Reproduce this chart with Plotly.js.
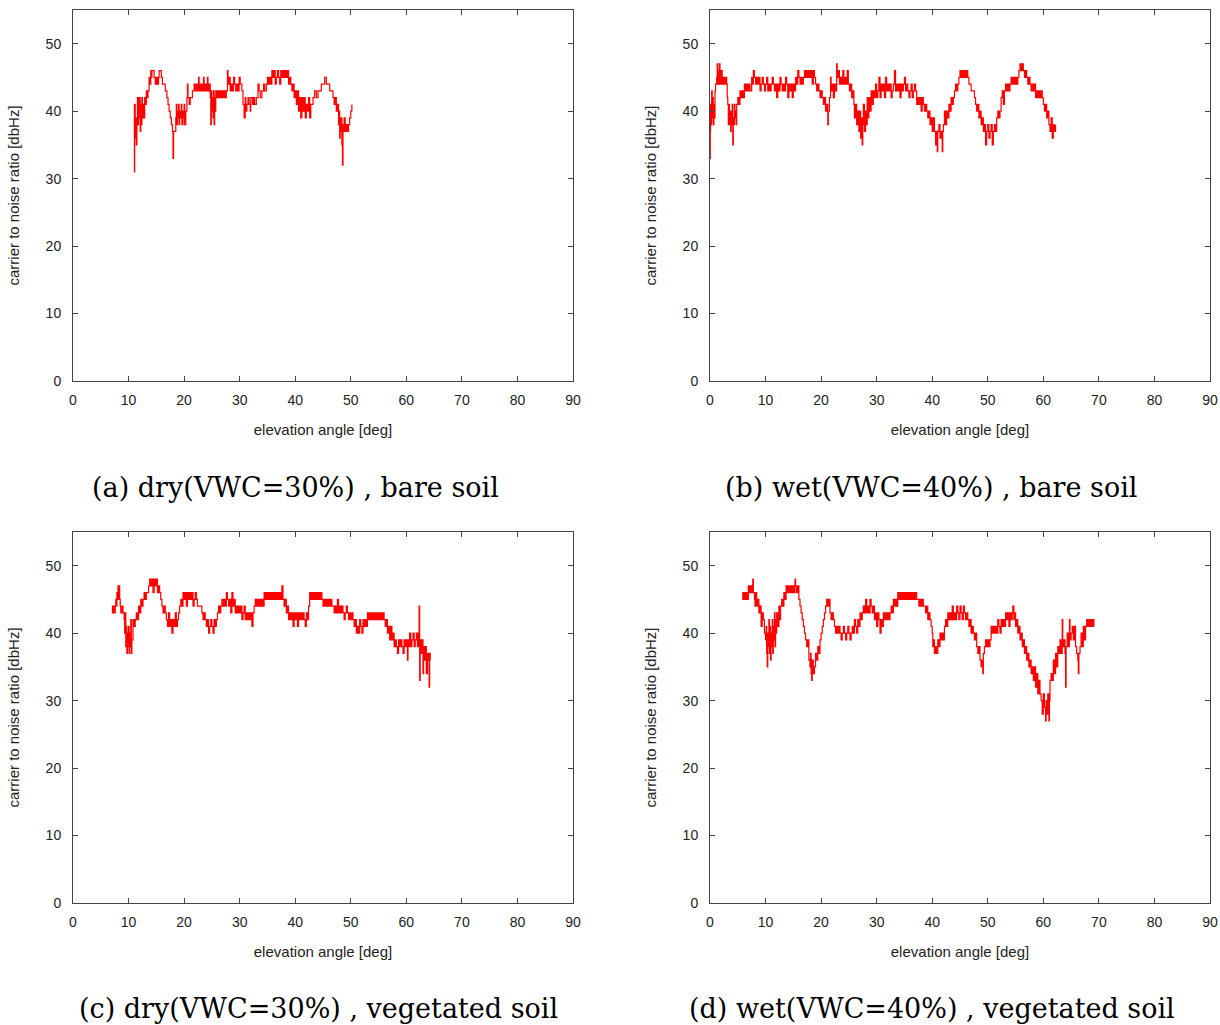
<!DOCTYPE html>
<html>
<head>
<meta charset="utf-8">
<script src="https://cdn.plot.ly/plotly-3.0.1.min.js"></script>
<style>html,body{margin:0;padding:0;background:#fff;}#chart{width:1220px;height:1025px;}</style>
</head>
<body>
<div id="chart"></div>
<script>
// [elevation angle (deg), carrier to noise ratio (dBHz)]
const panelA = [[11.0,41],[11.05,31],[11.1,41],[11.2,36],[11.3,39],[11.4,35],[11.5,39],[11.6,42],[11.7,38],[11.8,42],[11.9,39],[12.0,42],[12.1,37],[12.2,41],[12.3,38],[12.4,42],[12.5,39],[12.6,40],[12.7,41],[12.8,39],[12.9,42],[13.0,41],[13.2,43],[13.4,42],[13.5,43],[13.7,45],[13.8,44],[14.0,46],[14.1,45],[14.2,46],[14.4,46],[14.6,45],[14.8,44],[15.0,45],[15.2,44],[15.4,45],[15.5,46],[15.7,46],[15.9,45],[16.1,44],[16.4,44],[16.6,43],[16.9,42],[17.1,41],[17.3,40],[17.5,39],[17.7,38],[17.9,37],[18.0,33],[18.1,37],[18.3,37],[18.5,39],[18.6,41],[18.7,38],[18.8,40],[18.9,39],[19.0,41],[19.1,38],[19.2,40],[19.4,39],[19.5,41],[19.6,38],[19.8,40],[19.9,39],[20.0,41],[20.1,38],[20.3,40],[20.5,42],[20.6,44],[20.7,42],[20.9,41],[21.1,42],[21.3,42],[21.5,43],[21.8,44],[22.0,43],[22.2,44],[22.4,43],[22.6,45],[22.7,43],[22.9,44],[23.0,43],[23.2,44],[23.3,43],[23.5,45],[23.6,43],[23.8,44],[24.0,43],[24.2,45],[24.3,43],[24.5,44],[24.7,42],[24.8,38],[24.9,43],[25.0,40],[25.1,42],[25.2,39],[25.3,43],[25.4,38],[25.5,42],[25.6,40],[25.7,43],[25.9,42],[26.0,43],[26.2,42],[26.4,43],[26.6,42],[26.8,43],[27.0,42],[27.2,43],[27.4,42],[27.6,43],[27.8,46],[27.9,44],[28.1,45],[28.3,43],[28.5,44],[28.7,43],[28.9,45],[29.1,44],[29.3,43],[29.5,44],[29.7,43],[29.9,45],[30.1,44],[30.4,43],[30.6,41],[30.8,39],[31.0,42],[31.1,40],[31.3,41],[31.5,42],[31.7,41],[31.9,40],[32.0,42],[32.3,41],[32.5,42],[32.7,41],[33.0,42],[33.3,44],[33.5,43],[33.7,42],[34.0,43],[34.3,44],[34.5,43],[34.8,44],[35.0,45],[35.2,44],[35.4,45],[35.6,44],[35.8,46],[36.0,45],[36.2,46],[36.4,44],[36.6,45],[36.8,46],[37.0,45],[37.2,44],[37.4,46],[37.6,45],[37.8,46],[38.0,45],[38.2,46],[38.4,45],[38.6,46],[38.8,44],[39.0,45],[39.2,44],[39.4,43],[39.6,44],[39.8,42],[40.0,43],[40.2,41],[40.4,43],[40.6,40],[40.8,42],[41.0,39],[41.2,42],[41.4,40],[41.6,42],[41.8,39],[42.0,41],[42.2,40],[42.4,42],[42.6,39],[42.8,41],[43.0,41],[43.2,42],[43.5,43],[43.8,42],[44.1,43],[44.4,43],[44.7,44],[45.0,44],[45.3,45],[45.6,44],[45.9,44],[46.2,43],[46.5,43],[46.8,42],[47.0,41],[47.2,42],[47.4,40],[47.6,41],[47.8,38],[47.9,40],[48.0,36],[48.1,39],[48.2,37],[48.3,39],[48.4,35],[48.5,32],[48.6,38],[48.7,37],[48.8,39],[49.0,37],[49.2,38],[49.4,37],[49.6,38],[49.8,39],[50.0,40],[50.2,41]];

const panelB = [[0.0,33],[0.05,37],[0.1,41],[0.2,38],[0.3,43],[0.4,39],[0.5,42],[0.6,38],[0.7,41],[0.8,39],[0.9,43],[1.0,44],[1.2,45],[1.3,47],[1.4,44],[1.5,46],[1.6,44],[1.7,47],[1.8,45],[1.9,44],[2.0,46],[2.2,44],[2.4,45],[2.6,44],[2.8,45],[3.0,44],[3.1,42],[3.2,41],[3.3,38],[3.4,41],[3.5,38],[3.6,40],[3.7,37],[3.8,40],[3.9,38],[4.0,41],[4.1,35],[4.2,39],[4.3,38],[4.4,41],[4.5,39],[4.6,40],[4.7,38],[4.8,41],[5.0,42],[5.2,41],[5.4,43],[5.6,42],[5.8,43],[6.0,42],[6.2,44],[6.4,43],[6.6,44],[6.8,43],[7.0,44],[7.2,43],[7.5,45],[7.7,44],[7.8,46],[8.0,45],[8.2,44],[8.4,45],[8.6,44],[8.8,45],[9.0,43],[9.2,44],[9.4,45],[9.6,44],[9.8,43],[10.0,44],[10.2,45],[10.4,43],[10.6,44],[10.8,43],[11.0,44],[11.2,45],[11.4,44],[11.6,43],[11.8,44],[12.0,42],[12.2,44],[12.4,43],[12.6,45],[12.8,44],[13.0,43],[13.2,44],[13.4,43],[13.6,45],[13.8,44],[14.0,42],[14.2,44],[14.4,43],[14.6,44],[14.8,42],[15.0,44],[15.2,43],[15.4,45],[15.6,44],[15.8,46],[16.0,45],[16.2,44],[16.4,45],[16.6,44],[16.8,45],[17.0,46],[17.2,45],[17.4,46],[17.6,45],[17.8,46],[18.0,45],[18.2,46],[18.4,44],[18.6,46],[18.8,45],[19.0,44],[19.2,43],[19.4,44],[19.6,43],[19.8,42],[20.0,43],[20.2,42],[20.4,41],[20.6,42],[20.8,40],[21.0,41],[21.2,38],[21.3,40],[21.5,42],[21.7,45],[21.8,43],[22.0,44],[22.2,42],[22.4,44],[22.6,43],[22.8,47],[22.9,45],[23.1,46],[23.3,44],[23.5,45],[23.7,44],[23.9,46],[24.1,44],[24.3,45],[24.5,44],[24.7,46],[24.9,44],[25.1,43],[25.3,44],[25.5,42],[25.7,43],[25.9,41],[26.0,39],[26.2,41],[26.4,38],[26.6,40],[26.8,37],[27.0,40],[27.1,36],[27.2,39],[27.4,35],[27.5,38],[27.6,41],[27.8,37],[28.0,40],[28.1,38],[28.3,42],[28.4,39],[28.6,42],[28.8,40],[29.0,43],[29.2,41],[29.4,43],[29.6,42],[29.8,44],[30.0,42],[30.2,43],[30.4,45],[30.6,42],[30.8,44],[31.0,43],[31.2,44],[31.4,42],[31.6,45],[31.8,43],[32.0,44],[32.2,43],[32.4,44],[32.6,42],[32.8,43],[33.0,44],[33.2,46],[33.4,43],[33.6,44],[33.8,43],[34.0,44],[34.2,42],[34.4,44],[34.6,43],[34.8,44],[35.0,45],[35.2,43],[35.4,44],[35.6,43],[35.8,42],[36.0,43],[36.2,44],[36.4,42],[36.6,43],[36.8,44],[37.0,43],[37.2,41],[37.4,42],[37.6,41],[37.8,42],[38.0,40],[38.2,42],[38.4,41],[38.6,40],[38.8,41],[39.0,40],[39.2,39],[39.4,40],[39.6,38],[39.8,39],[40.0,37],[40.2,39],[40.4,37],[40.6,35],[40.8,37],[40.9,34],[41.0,37],[41.2,38],[41.4,36],[41.6,37],[41.8,34],[41.9,37],[42.0,38],[42.2,40],[42.4,38],[42.6,40],[42.8,39],[43.0,41],[43.2,40],[43.4,42],[43.6,41],[43.8,42],[44.0,43],[44.2,44],[44.4,43],[44.6,44],[44.8,45],[45.0,46],[45.2,45],[45.4,46],[45.6,45],[45.8,46],[46.0,45],[46.2,46],[46.4,45],[46.6,44],[46.8,44],[47.0,43],[47.4,43],[47.6,42],[47.8,41],[48.0,40],[48.2,41],[48.4,39],[48.6,40],[48.8,38],[49.0,39],[49.2,37],[49.4,38],[49.6,35],[49.8,37],[50.0,38],[50.2,36],[50.4,37],[50.6,38],[50.8,35],[51.0,37],[51.2,38],[51.4,37],[51.6,39],[51.8,40],[52.0,39],[52.2,40],[52.4,42],[52.6,43],[52.8,41],[53.0,43],[53.2,44],[53.4,43],[53.6,44],[53.8,43],[54.0,44],[54.2,45],[54.4,44],[54.6,45],[54.8,44],[55.0,45],[55.2,44],[55.4,45],[55.6,46],[55.8,47],[56.0,46],[56.2,47],[56.4,46],[56.6,45],[56.8,46],[57.0,45],[57.2,44],[57.4,45],[57.6,44],[57.8,43],[58.0,44],[58.2,43],[58.4,44],[58.6,42],[58.8,43],[59.0,42],[59.2,43],[59.4,42],[59.6,43],[59.8,42],[60.0,41],[60.2,40],[60.4,41],[60.6,39],[60.8,40],[61.0,38],[61.2,37],[61.4,39],[61.6,36],[61.8,38],[62.0,37],[62.2,38]];

const panelC = [[7.0,43],[7.1,44],[7.2,43],[7.4,44],[7.5,43],[7.6,44],[7.7,45],[7.8,44],[7.9,46],[8.0,45],[8.1,47],[8.2,45],[8.3,47],[8.4,45],[8.5,44],[8.6,43],[8.8,44],[9.0,43],[9.2,42],[9.3,40],[9.4,43],[9.5,38],[9.6,41],[9.7,37],[9.8,40],[9.9,38],[10.0,41],[10.1,37],[10.2,40],[10.3,38],[10.4,42],[10.5,37],[10.6,39],[10.8,42],[11.0,41],[11.2,42],[11.4,43],[11.6,42],[11.8,44],[12.0,43],[12.2,45],[12.4,44],[12.6,45],[12.8,46],[13.0,45],[13.2,46],[13.4,46],[13.6,47],[13.8,48],[14.0,47],[14.2,48],[14.4,46],[14.6,48],[14.8,47],[15.0,48],[15.2,46],[15.4,47],[15.6,46],[15.8,45],[16.0,44],[16.2,43],[16.4,44],[16.6,43],[16.8,42],[17.0,41],[17.2,43],[17.4,41],[17.6,42],[17.8,40],[18.0,42],[18.2,41],[18.4,43],[18.6,41],[18.8,42],[19.0,43],[19.2,44],[19.4,45],[19.6,44],[19.8,46],[20.0,45],[20.2,46],[20.4,44],[20.6,46],[20.8,45],[21.0,46],[21.2,45],[21.4,46],[21.6,44],[21.8,45],[22.0,46],[22.2,45],[22.4,44],[22.6,44],[23.0,44],[23.2,43],[23.4,42],[23.6,43],[23.8,42],[24.0,41],[24.2,42],[24.4,40],[24.6,41],[24.8,42],[25.0,41],[25.2,40],[25.4,42],[25.6,41],[25.8,42],[26.0,43],[26.2,44],[26.4,43],[26.6,44],[26.8,45],[27.0,44],[27.2,45],[27.4,44],[27.6,46],[27.8,45],[28.0,44],[28.2,45],[28.4,43],[28.6,46],[28.8,44],[29.0,45],[29.2,43],[29.4,44],[29.6,43],[29.8,44],[30.0,43],[30.2,44],[30.4,42],[30.6,43],[30.8,44],[31.0,42],[31.2,43],[31.4,42],[31.6,43],[31.8,42],[32.0,43],[32.2,41],[32.4,43],[32.6,44],[32.8,45],[33.0,44],[33.2,45],[33.4,44],[33.6,45],[33.8,44],[34.0,45],[34.2,44],[34.4,46],[34.6,45],[34.8,46],[35.0,45],[35.2,46],[35.4,45],[35.6,46],[35.8,45],[36.0,46],[36.2,45],[36.4,46],[36.6,45],[36.8,46],[37.0,45],[37.2,46],[37.4,45],[37.6,47],[37.8,45],[38.0,44],[38.2,45],[38.4,43],[38.6,44],[38.8,42],[39.0,43],[39.2,42],[39.4,43],[39.6,41],[39.8,43],[40.0,42],[40.2,43],[40.4,41],[40.6,43],[40.8,42],[41.0,43],[41.2,42],[41.4,43],[41.6,42],[41.8,41],[42.0,43],[42.2,42],[42.4,44],[42.6,46],[42.8,45],[43.0,46],[43.2,45],[43.4,46],[43.6,45],[43.8,46],[44.0,45],[44.2,46],[44.4,45],[44.6,46],[44.8,45],[45.0,44],[45.2,45],[45.4,44],[45.6,45],[45.8,44],[46.0,45],[46.2,44],[46.4,45],[46.6,44],[46.8,44],[47.0,43],[47.2,44],[47.4,43],[47.6,45],[47.8,43],[48.0,44],[48.2,43],[48.4,44],[48.6,43],[48.8,42],[49.0,43],[49.2,44],[49.4,43],[49.6,42],[49.8,43],[50.0,42],[50.2,43],[50.4,42],[50.6,41],[50.8,42],[51.0,40],[51.2,41],[51.4,40],[51.6,42],[51.8,41],[52.0,40],[52.2,42],[52.4,41],[52.6,42],[52.8,41],[53.0,43],[53.2,42],[53.4,43],[53.6,42],[53.8,43],[54.0,42],[54.2,43],[54.4,42],[54.6,43],[54.8,42],[55.0,43],[55.2,42],[55.4,43],[55.6,42],[55.8,43],[56.0,42],[56.2,41],[56.4,42],[56.6,40],[56.8,41],[57.0,39],[57.2,41],[57.4,39],[57.6,40],[57.8,38],[58.0,39],[58.2,38],[58.4,37],[58.6,39],[58.8,38],[59.0,39],[59.2,38],[59.4,37],[59.6,39],[59.8,38],[60.0,39],[60.2,36],[60.3,39],[60.4,38],[60.6,40],[60.8,38],[61.0,39],[61.2,40],[61.4,38],[61.6,39],[61.8,40],[62.0,38],[62.2,40],[62.3,44],[62.4,33],[62.5,39],[62.7,37],[62.9,39],[63.0,34],[63.1,38],[63.3,36],[63.5,38],[63.6,34],[63.8,37],[64.0,36],[64.1,32],[64.2,37],[64.3,36]];

const panelD = [[5.8,45],[5.9,46],[6.0,45],[6.2,46],[6.4,45],[6.6,46],[6.8,45],[6.9,47],[7.0,46],[7.2,47],[7.4,46],[7.6,47],[7.7,48],[7.8,46],[8.0,45],[8.1,44],[8.2,46],[8.4,44],[8.6,45],[8.8,43],[9.0,44],[9.2,41],[9.4,43],[9.6,42],[9.8,40],[10.0,39],[10.1,41],[10.2,37],[10.3,35],[10.4,40],[10.5,38],[10.6,42],[10.7,37],[10.8,41],[10.9,36],[11.0,40],[11.1,38],[11.2,42],[11.3,37],[11.4,41],[11.5,39],[11.6,43],[11.7,38],[11.8,42],[11.9,40],[12.0,43],[12.2,41],[12.4,44],[12.5,42],[12.7,44],[12.9,45],[13.1,44],[13.3,46],[13.5,45],[13.7,47],[13.9,46],[14.1,47],[14.3,46],[14.5,47],[14.7,46],[14.9,47],[15.1,46],[15.3,48],[15.4,47],[15.6,46],[15.8,47],[16.0,45],[16.2,44],[16.4,43],[16.6,42],[16.8,41],[17.0,40],[17.2,39],[17.4,38],[17.6,39],[17.8,36],[18.0,35],[18.1,37],[18.2,34],[18.3,33],[18.4,36],[18.6,34],[18.8,35],[19.0,37],[19.2,36],[19.4,38],[19.6,37],[19.8,39],[20.0,40],[20.2,41],[20.4,42],[20.6,43],[20.8,44],[21.0,45],[21.2,44],[21.4,45],[21.6,43],[21.8,42],[22.0,43],[22.2,42],[22.4,41],[22.6,40],[22.8,41],[23.0,40],[23.2,41],[23.4,40],[23.6,39],[23.8,40],[24.0,41],[24.2,40],[24.4,39],[24.6,40],[24.8,41],[25.0,40],[25.2,39],[25.4,40],[25.6,41],[25.8,40],[26.0,42],[26.2,41],[26.4,40],[26.6,42],[26.8,41],[27.0,43],[27.2,42],[27.4,43],[27.6,44],[27.8,43],[28.0,45],[28.2,43],[28.4,44],[28.6,43],[28.8,45],[29.0,44],[29.2,43],[29.4,44],[29.6,42],[29.8,43],[30.0,41],[30.2,43],[30.4,42],[30.6,40],[30.8,42],[31.0,41],[31.2,43],[31.4,42],[31.6,43],[31.8,42],[32.0,43],[32.2,42],[32.4,43],[32.6,44],[32.8,43],[33.0,45],[33.2,44],[33.4,45],[33.6,44],[33.8,46],[34.0,45],[34.2,46],[34.4,45],[34.6,46],[34.8,45],[35.0,46],[35.2,45],[35.4,46],[35.6,45],[35.8,46],[36.0,45],[36.2,46],[36.4,45],[36.6,46],[36.8,45],[37.0,46],[37.2,45],[37.4,45],[37.6,44],[37.8,45],[38.0,44],[38.2,45],[38.4,44],[38.6,44],[38.8,43],[39.0,44],[39.2,42],[39.4,43],[39.6,42],[39.8,41],[40.0,40],[40.1,38],[40.2,39],[40.4,37],[40.6,38],[40.8,37],[41.0,39],[41.2,38],[41.4,40],[41.6,39],[41.8,40],[42.0,39],[42.2,41],[42.4,42],[42.6,41],[42.8,43],[43.0,42],[43.2,43],[43.4,42],[43.6,44],[43.8,42],[44.0,43],[44.2,42],[44.4,44],[44.6,43],[44.8,42],[45.0,44],[45.2,43],[45.4,42],[45.6,44],[45.8,43],[46.0,42],[46.2,43],[46.4,42],[46.6,41],[46.8,42],[47.0,40],[47.2,41],[47.4,40],[47.6,39],[47.8,40],[48.0,38],[48.2,37],[48.4,38],[48.6,36],[48.8,35],[49.0,36],[49.1,34],[49.2,37],[49.4,38],[49.6,39],[49.8,38],[50.0,39],[50.2,38],[50.4,39],[50.6,41],[50.8,40],[51.0,41],[51.2,40],[51.4,41],[51.6,40],[51.8,42],[52.0,41],[52.2,40],[52.4,42],[52.6,41],[52.8,42],[53.0,41],[53.2,43],[53.4,42],[53.6,43],[53.8,41],[54.0,43],[54.2,42],[54.4,43],[54.5,44],[54.7,42],[54.9,43],[55.0,41],[55.2,42],[55.4,40],[55.6,41],[55.8,39],[56.0,40],[56.2,38],[56.4,39],[56.6,37],[56.8,38],[57.0,36],[57.2,37],[57.4,35],[57.6,36],[57.8,34],[58.0,35],[58.2,33],[58.4,35],[58.6,32],[58.8,34],[59.0,31],[59.2,33],[59.4,31],[59.6,30],[59.8,28],[60.0,31],[60.2,29],[60.4,27],[60.5,30],[60.6,28],[60.8,31],[61.0,27],[61.1,30],[61.2,33],[61.4,34],[61.6,33],[61.8,36],[62.0,34],[62.2,37],[62.4,35],[62.6,38],[62.8,37],[63.0,39],[63.2,37],[63.4,42],[63.5,38],[63.7,39],[63.9,37],[64.0,32],[64.1,38],[64.3,40],[64.5,38],[64.7,42],[64.8,39],[65.0,40],[65.2,41],[65.4,39],[65.6,41],[65.8,38],[66.0,37],[66.2,36],[66.3,34],[66.4,37],[66.6,38],[66.8,40],[67.0,38],[67.2,41],[67.4,39],[67.6,41],[67.8,42],[68.0,41],[68.2,42],[68.4,41],[68.6,42],[68.8,41],[69.0,42],[69.1,41]];

const captions = ["(a) dry(VWC=30%) , bare soil", "(b) wet(VWC=40%) , bare soil", "(c) dry(VWC=30%) , vegetated soil", "(d) wet(VWC=40%) , vegetated soil"];
const xTitle = "elevation angle [deg]";
const yTitle = "carrier to noise ratio [dbHz]";

const W = 1220, H = 1025;
const panels = [panelA, panelB, panelC, panelD];
// plot area boxes in pixels: [left, right, top, bottom]
const boxes = [[73, 573, 10, 381], [710, 1210, 10, 381], [73, 573, 532, 903], [710, 1210, 532, 903]];
const capPos = [[295, 487], [931, 487], [318, 1008], [932, 1008]];

const traces = panels.map((p, i) => ({
  x: p.map(d => d[0]),
  y: p.map(d => d[1]),
  xaxis: i === 0 ? 'x' : 'x' + (i + 1),
  yaxis: i === 0 ? 'y' : 'y' + (i + 1),
  type: 'scatter',
  mode: 'lines',
  line: {color: '#ff0000', width: 1.2, shape: 'hv'},
  hoverinfo: 'skip',
  showlegend: false
}));

const tickFont = {family: 'Liberation Sans, Arial, sans-serif', size: 14, color: '#222'};
const titleFont = {family: 'Liberation Sans, Arial, sans-serif', size: 15, color: '#222'};
const common = {
  showgrid: false, zeroline: false, showline: true, linecolor: '#444', linewidth: 1,
  mirror: 'ticks', ticks: 'inside', ticklen: 5, tickcolor: '#444', tickwidth: 1,
  tickfont: tickFont, tick0: 0, dtick: 10, fixedrange: true, automargin: false
};

const layout = {
  width: W, height: H,
  margin: {l: 0, r: 0, t: 0, b: 0},
  paper_bgcolor: '#fff', plot_bgcolor: '#fff',
  showlegend: false,
  annotations: []
};

boxes.forEach((b, i) => {
  const sx = i === 0 ? '' : String(i + 1);
  layout['xaxis' + sx] = Object.assign({}, common, {
    domain: [b[0] / W, b[1] / W],
    range: [0, 90],
    anchor: 'y' + sx,
    ticklabelstandoff: 6,
    title: {text: xTitle, font: titleFont, standoff: 17}
  });
  layout['yaxis' + sx] = Object.assign({}, common, {
    domain: [1 - b[3] / H, 1 - b[2] / H],
    range: [0, 55],
    anchor: 'x' + sx,
    ticklabelstandoff: 8,
    title: {text: yTitle, font: titleFont, standoff: 22}
  });
  layout.annotations.push({
    xref: 'paper', yref: 'paper',
    x: capPos[i][0] / W, y: 1 - capPos[i][1] / H,
    xanchor: 'center', yanchor: 'middle',
    text: captions[i], showarrow: false,
    font: {family: 'DejaVu Serif, Liberation Serif, serif', size: 27, color: '#000'}
  });
});

Plotly.newPlot('chart', traces, layout, {staticPlot: true, displayModeBar: false});
</script>
</body>
</html>
